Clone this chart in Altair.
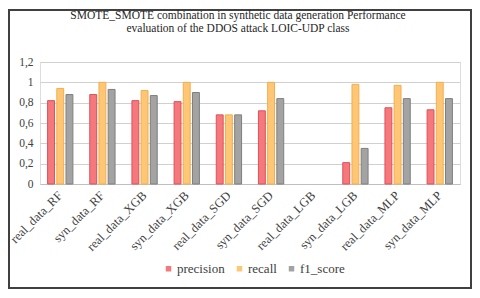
import altair as alt
import pandas as pd

models = ["real_data_RF", "syn_data_RF", "real_data_XGB", "syn_data_XGB",
          "real_data_SGD", "syn_data_SGD", "real_data_LGB", "syn_data_LGB",
          "real_data_MLP", "syn_data_MLP"]
precision = [0.82, 0.88, 0.82, 0.81, 0.68, 0.72, 0.0, 0.21, 0.75, 0.73]
recall = [0.94, 1.00, 0.92, 1.00, 0.68, 1.00, 0.0, 0.98, 0.97, 1.00]
f1_score = [0.88, 0.93, 0.87, 0.90, 0.68, 0.84, 0.0, 0.35, 0.84, 0.84]
metrics = ["precision", "recall", "f1_score"]
fills = ["#F4787C", "#FFC675", "#A3A3A3"]
strokes = ["#E0505A", "#F2AE4E", "#7F7F7F"]
y_ticks = [0, 0.2, 0.4, 0.6, 0.8, 1.0, 1.2]
title_lines = ["SMOTE_SMOTE combination in synthetic data generation Performance",
               "evaluation of the DDOS attack LOIC-UDP class"]

rows = []
for i, m in enumerate(models):
    for name, vals in zip(metrics, [precision, recall, f1_score]):
        rows.append({"model": m, "metric": name, "value": vals[i]})
df = pd.DataFrame(rows)

serif = "Liberation Serif"

bars = alt.Chart(df).transform_filter("datum.value > 0").mark_bar(strokeWidth=1).encode(
    x=alt.X("model:N", sort=models, title=None,
            scale=alt.Scale(domain=models, paddingInner=0.4, paddingOuter=0.18),
            axis=alt.Axis(labelAngle=-45, labelFont=serif, labelFontSize=12.5,
                          labelColor="#404040", ticks=False, domain=True,
                          domainColor="#BFBFBF", labelPadding=9, labelAlign="right",
                          labelBaseline="middle")),
    xOffset=alt.XOffset("metric:N", sort=metrics,
                        scale=alt.Scale(domain=metrics, paddingInner=0.25, paddingOuter=0)),
    y=alt.Y("value:Q", title=None,
            scale=alt.Scale(domain=[0, 1.2], nice=False),
            axis=alt.Axis(values=y_ticks, labelExpr="replace(toString(datum.value), '.', ',')",
                          labelFont=serif, labelFontSize=11.5, labelColor="#404040",
                          ticks=False, domain=False, gridColor="#D0D0D0",
                          labelPadding=7)),
    color=alt.Color("metric:N", sort=metrics, title=None,
                    scale=alt.Scale(domain=metrics, range=fills),
                    legend=alt.Legend(orient="none", legendX=122, legendY=200,
                                      direction="horizontal", symbolType="square",
                                      symbolSize=30, symbolStrokeWidth=0,
                                      labelFont=serif, labelFontSize=13,
                                      labelColor="#404040", columnPadding=8,
                                      labelOffset=2)),
    stroke=alt.Stroke("metric:N", sort=metrics, legend=None,
                      scale=alt.Scale(domain=metrics, range=strokes)),
)

frame = alt.Chart(pd.DataFrame({"a": [0]})).mark_rect(
    fill=None, stroke="#404040", strokeWidth=2
).encode(
    x=alt.value(-31), x2=alt.value(431),
    y=alt.value(-52), y2=alt.value(226),
)


def title_line(i, ypos):
    return alt.Chart(pd.DataFrame({"line": [title_lines[i]]})).mark_text(
        font=serif, fontSize=11.5, color="#262626", align="center", baseline="middle"
    ).encode(text="line:N", x=alt.value(198), y=alt.value(ypos))


chart = alt.layer(bars, frame, title_line(0, -46), title_line(1, -33)).properties(
    width=420, height=122,
    autosize=alt.AutoSizeParams(type="none"),
    padding={"left": 32, "top": 54, "right": 12, "bottom": 106},
).configure_view(stroke=None).configure(background="white")

chart.save("out.html", embed_options={"renderer": "svg", "actions": False})
